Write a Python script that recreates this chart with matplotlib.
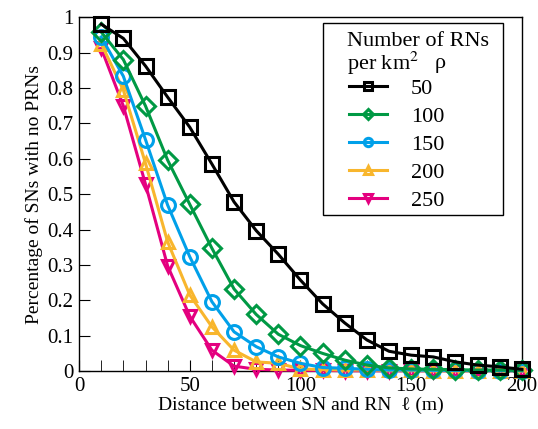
import matplotlib
matplotlib.use("Agg")
import matplotlib.pyplot as plt
from matplotlib.ticker import MultipleLocator, FuncFormatter
from matplotlib.patches import Rectangle

plt.rcParams['font.family'] = ['Liberation Serif', 'DejaVu Serif']
plt.rcParams['mathtext.fontset'] = 'stix'

distance = [10, 20, 30, 40, 50, 60, 70, 80, 90, 100,
            110, 120, 130, 140, 150, 160, 170, 180, 190, 200]
rho_labels = ["50", "100", "150", "200", "250"]
p50 = [0.98, 0.94, 0.862, 0.774, 0.689, 0.585, 0.478, 0.397, 0.33, 0.257,
       0.19, 0.136, 0.088, 0.056, 0.045, 0.04, 0.026, 0.017, 0.012, 0.005]
p100 = [0.958, 0.88, 0.749, 0.596, 0.471, 0.347, 0.232, 0.16, 0.104, 0.072,
        0.05, 0.031, 0.017, 0.009, 0.006, 0.005, 0.004, 0.003, 0.003, 0.002]
p150 = [0.944, 0.833, 0.654, 0.469, 0.323, 0.196, 0.111, 0.069, 0.04, 0.022,
        0.01, 0.008, 0.005, 0.003, 0.003, 0.002, 0.002, 0.001, 0.001, 0.001]
p200 = [0.925, 0.794, 0.587, 0.365, 0.215, 0.125, 0.059, 0.026, 0.022, 0.006,
        0.004, 0.003, 0.003, 0.002, 0.002, 0.001, 0.001, 0.001, 0.001, 0.001]
p250 = [0.912, 0.749, 0.528, 0.297, 0.155, 0.059, 0.014, 0.005, 0.003, 0.002,
        0.002, 0.001, 0.001, 0.001, 0.001, 0.001, 0.001, 0.001, 0.001, 0.001]

series = [p50, p100, p150, p200, p250]
colors = ["#000000", "#009944", "#00a0e9", "#f8b62d", "#e4007f"]
markers = ["s", "D", "o", "^", "v"]
msizes = [10, 9, 10, 9, 9]

fig = plt.figure(figsize=(5.38, 4.29), dpi=100)
ax = fig.add_axes([0.147, 0.135, 0.823, 0.825])

handles = [None] * 5
for i in reversed(range(5)):
    h, = ax.plot(distance, series[i], color=colors[i], marker=markers[i],
                 markersize=msizes[i], markerfacecolor='none',
                 markeredgewidth=2.2, linewidth=2.2, label=rho_labels[i],
                 clip_on=False, zorder=3 + (5 - i))
    handles[i] = h

ax.set_xlim(0, 200)
ax.set_ylim(0, 1)
ax.xaxis.set_major_locator(MultipleLocator(50))
ax.xaxis.set_minor_locator(MultipleLocator(10))
ax.yaxis.set_major_locator(MultipleLocator(0.1))
ax.yaxis.set_major_formatter(FuncFormatter(lambda v, p: f"{v:.1f}".rstrip('0').rstrip('.') if abs(v) > 1e-9 else "0"))
ax.tick_params(axis='both', which='both', direction='in', top=False, right=False,
               labelsize=15)
ax.tick_params(axis='both', which='major', length=8, pad=4)
ax.tick_params(axis='x', which='minor', length=8)
for s in ax.spines.values():
    s.set_linewidth(1.0)

ax.set_xlabel("Distance between SN and RN  ℓ (m)", fontsize=14, labelpad=1)
ax.set_ylabel("Percentage of SNs with no PRNs", fontsize=14, labelpad=3)

# legend frame
frame = Rectangle((0.551, 0.441), 0.406, 0.542, transform=ax.transAxes,
                  facecolor='white', edgecolor='black', linewidth=1.0,
                  zorder=20, clip_on=False)
ax.add_patch(frame)
ax.text(0.605, 0.932, "Number of RNs", transform=ax.transAxes, fontsize=16,
        ha='left', va='center', zorder=21)
ax.text(0.605, 0.868, "per km$^2$", transform=ax.transAxes, fontsize=16,
        ha='left', va='center', zorder=21)
ax.text(0.802, 0.868, "ρ", transform=ax.transAxes, fontsize=16,
        ha='left', va='center', zorder=21)

leg = ax.legend(handles=handles, labels=rho_labels,
                loc='upper left', bbox_to_anchor=(0.609, 0.828), borderaxespad=0,
                fontsize=16, frameon=False, markerscale=0.6, handlelength=1.7,
                handletextpad=1.1, borderpad=0, labelspacing=0.34)
leg.set_zorder(22)

fig.savefig("out.png", dpi=100)
